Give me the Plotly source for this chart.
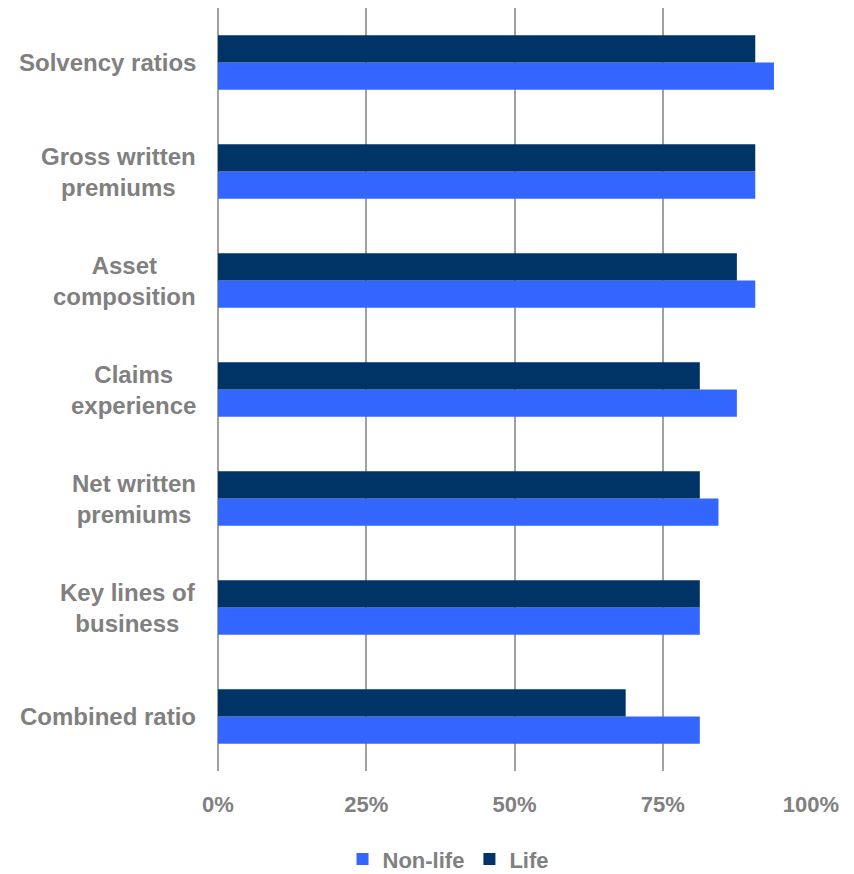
import plotly.graph_objects as go

categories = ["Combined ratio", "Key lines of<br>business", "Net written<br>premiums",
              "Claims<br>experience", "Asset<br>composition", "Gross written<br>premiums",
              "Solvency ratios"]
non_life = [81.25, 81.25, 84.4, 87.5, 90.6, 90.6, 93.75]
life = [68.75, 81.25, 81.25, 81.25, 87.5, 90.6, 90.6]
tick_vals = [0, 25, 50, 75, 100]
tick_text = ["0%", "25%", "50%", "75%", "100%"]

FONT = "Liberation Sans, Arial, sans-serif"
GRAY = "#808080"

fig = go.Figure()
fig.add_trace(go.Bar(y=categories, x=non_life, name="Non-life", orientation="h",
                     marker=dict(color="#3366FF", line=dict(width=0))))
fig.add_trace(go.Bar(y=categories, x=life, name="Life", orientation="h",
                     marker=dict(color="#003366", line=dict(width=0))))

for c in categories:
    fig.add_annotation(x=0, xref="paper", y=c, yref="y", xshift=-20,
                       text=c, showarrow=False, xanchor="right", yanchor="middle",
                       align="center",
                       font=dict(family=FONT, size=24, color=GRAY, weight="bold"))

fig.update_layout(
    width=854, height=874,
    margin=dict(l=210, r=51, t=0, b=111, autoexpand=False),
    plot_bgcolor="white", paper_bgcolor="white",
    barmode="group", bargap=0.5, bargroupgap=0,
    font=dict(family=FONT, size=22, color=GRAY, weight="bold"),
    legend=dict(orientation="h", x=0.21, xanchor="left",
                y=0.026, yref="container", yanchor="middle",
                font=dict(family=FONT, size=22, color=GRAY, weight="bold"),
                itemwidth=30, traceorder="normal"),
    xaxis=dict(range=[0, 100], tickvals=tick_vals, ticktext=tick_text,
               showgrid=True, gridcolor="#A0A0A0", gridwidth=2,
               zeroline=True, zerolinecolor="#A0A0A0", zerolinewidth=2,
               showline=False, ticks="", ticklabelstandoff=18, automargin=False,
               tickfont=dict(family=FONT, size=22, color=GRAY, weight="bold")),
    yaxis=dict(categoryorder="array", categoryarray=categories,
               showticklabels=False, showgrid=False, zeroline=False, showline=False,
               ticks="", automargin=False),
)

fig.write_html("out.html")
